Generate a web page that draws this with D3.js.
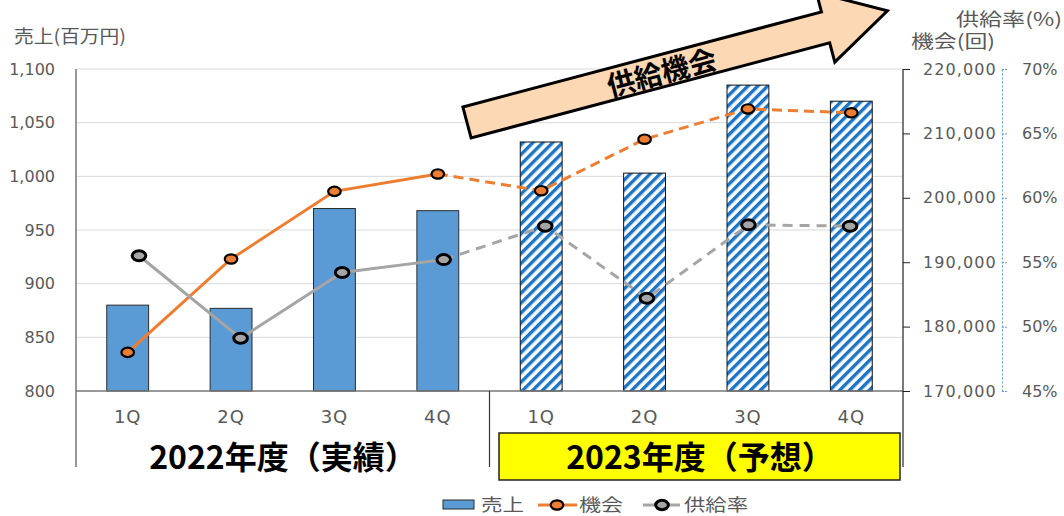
<!DOCTYPE html>
<html>
<head>
<meta charset="utf-8">
<script src="https://cdn.jsdelivr.net/npm/d3@7"></script>
<style>
body { margin: 0; background: #fff; }
</style>
</head>
<body>
<div id="myChart"></div>
<script>
// data
var quarters = ["1Q", "2Q", "3Q", "4Q", "1Q", "2Q", "3Q", "4Q"];
var years = ["2022年度（実績）", "2023年度（予想）"];
var sales = [880, 877, 970, 968, 1032, 1003, 1085, 1070];          // 売上(百万円)
var chances = [176000, 190500, 201000, 203700, 201100, 209100, 213800, 213200]; // 機会(回)
var supplyRate = [55.5, 49.1, 54.2, 55.2, 57.8, 52.2, 57.9, 57.8]; // 供給率(%)
var salesTicks = [800, 850, 900, 950, 1000, 1050, 1100];
var chanceTicks = [170000, 180000, 190000, 200000, 210000, 220000];
var rateTicks = [45, 50, 55, 60, 65, 70];
var forecastStart = 4; // 2023 = forecast

var W = 1064, H = 516;
var cjk = "'Noto Sans CJK JP', 'Noto Sans', sans-serif";
var num = "'DejaVu Sans', Verdana, sans-serif";
var txtGray = "#595959";

var svg = d3.select("#myChart")
    .append("svg")
    .attr("width", W).attr("height", H);

var defs = svg.append("defs");
var hatch = defs.append("pattern")
    .attr("id", "hatch")
    .attr("patternUnits", "userSpaceOnUse")
    .attr("width", 7).attr("height", 7)
    .attr("patternTransform", "rotate(45)");
hatch.append("rect").attr("width", 7).attr("height", 7).attr("fill", "#fff");
hatch.append("rect").attr("width", 3.4).attr("height", 7).attr("fill", "#1C74C4");

// scales
var idx = d3.range(quarters.length);
var x = d3.scaleBand().domain(idx).range([76, 903])
    .paddingInner(0.595).paddingOuter(0.2975);
var xc = function(i) { return x(i) + x.bandwidth() / 2; };
var xRate = d3.scalePoint().domain(idx).range([139, 850]); // 供給率 sits on its own category axis
var ySales = d3.scaleLinear().domain([800, 1100]).range([391, 69]);
var yChance = d3.scaleLinear().domain([170000, 220000]).range([391, 69]);
var yRate = d3.scaleLinear().domain([45, 70]).range([391, 69]);

// gridlines
svg.append("g")
    .selectAll("line")
    .data(salesTicks.slice(1))
    .join("line")
    .attr("x1", 76).attr("x2", 903)
    .attr("y1", function(d) { return ySales(d); })
    .attr("y2", function(d) { return ySales(d); })
    .attr("stroke", "#d9d9d9").attr("stroke-width", 1);

// left axis
var gL = svg.append("g")
    .attr("transform", "translate(76,0)")
    .call(d3.axisLeft(ySales).tickValues(salesTicks).tickSize(0).tickPadding(21)
        .tickFormat(d3.format(",")));
gL.select(".domain").remove();
gL.selectAll("text").attr("font-family", num).attr("font-size", 16).attr("fill", txtGray);

// right axis 機会
var gR = svg.append("g")
    .attr("transform", "translate(903,0)")
    .call(d3.axisRight(yChance).tickValues(chanceTicks).tickSize(7).tickSizeOuter(0)
        .tickPadding(13).tickFormat(d3.format(",")));
gR.select(".domain").remove();
gR.selectAll(".tick line").attr("stroke", "#222");
gR.selectAll("text").attr("font-family", num).attr("font-size", 16)
    .attr("letter-spacing", 1.1).attr("fill", txtGray);

// far right axis 供給率
var gP = svg.append("g")
    .attr("transform", "translate(1002,0)")
    .call(d3.axisRight(yRate).tickValues(rateTicks).tickSize(5).tickSizeOuter(0)
        .tickPadding(15).tickFormat(function(d) { return d + "%"; }));
gP.select(".domain").attr("stroke", "#5B9BD5").attr("stroke-dasharray", "2,2");
gP.selectAll(".tick line").attr("stroke", "#5B9BD5").attr("stroke-dasharray", "2,1");
gP.selectAll("text").attr("font-family", num).attr("font-size", 16).attr("fill", txtGray);

// bars
svg.append("g")
    .selectAll("rect")
    .data(sales)
    .join("rect")
    .attr("x", function(d, i) { return x(i); })
    .attr("width", x.bandwidth())
    .attr("y", function(d) { return ySales(d); })
    .attr("height", function(d) { return ySales(800) - ySales(d); })
    .attr("fill", function(d, i) { return i < forecastStart ? "#5B9BD5" : "url(#hatch)"; })
    .attr("stroke", function(d, i) { return i < forecastStart ? "#2b2b2b" : "#111"; })
    .attr("stroke-width", 1);

// axis lines
svg.append("line").attr("x1", 76).attr("x2", 903).attr("y1", 391).attr("y2", 391)
    .attr("stroke", "#767676").attr("stroke-width", 1.5);
svg.append("line").attr("x1", 76).attr("x2", 76).attr("y1", 69).attr("y2", 467)
    .attr("stroke", "#767676").attr("stroke-width", 1.5);
svg.append("line").attr("x1", 903).attr("x2", 903).attr("y1", 69).attr("y2", 467)
    .attr("stroke", "#222").attr("stroke-width", 1.2);
svg.append("line").attr("x1", x(forecastStart) - x.step() * x.paddingInner() / 2)
    .attr("x2", x(forecastStart) - x.step() * x.paddingInner() / 2)
    .attr("y1", 391).attr("y2", 467)
    .attr("stroke", "#333").attr("stroke-width", 1.2);

// quarter labels
var gB = svg.append("g")
    .attr("transform", "translate(0,391)")
    .call(d3.axisBottom(x).tickSize(0).tickPadding(19)
        .tickFormat(function(i) { return quarters[i]; }));
gB.select(".domain").remove();
gB.selectAll("text").attr("font-family", num).attr("font-size", 18)
    .attr("letter-spacing", 1).attr("fill", txtGray);

// year group labels
svg.append("rect")
    .attr("x", 499).attr("y", 433).attr("width", 401).attr("height", 47)
    .attr("fill", "#FFFF00").attr("stroke", "#222").attr("stroke-width", 1.5);
svg.append("g")
    .selectAll("text")
    .data(years)
    .join("text")
    .attr("x", function(d, i) { return i == 0 ? (76 + 490) / 2 : 700; })
    .attr("y", 457).attr("dy", "0.36em")
    .attr("text-anchor", "middle")
    .attr("font-family", cjk).attr("font-weight", "bold").attr("font-size", 32)
    .attr("fill", "#000")
    .text(function(d) { return d; });

// lines: solid for actuals, dashed for forecast
function drawSeries(values, xs, ys, color, dash) {
    var pts = values.map(function(v, i) { return [xs(i), ys(v)]; });
    var line = d3.line();
    svg.append("path")
        .attr("d", line(pts.slice(0, forecastStart)))
        .attr("fill", "none").attr("stroke", color).attr("stroke-width", 3);
    svg.append("path")
        .attr("d", line(pts.slice(forecastStart - 1)))
        .attr("fill", "none").attr("stroke", color).attr("stroke-width", 3)
        .attr("stroke-dasharray", dash);
    return pts;
}
var pc = drawSeries(chances, xc, yChance, "#ED7D31", "10,6");
var pr = drawSeries(supplyRate, xRate, yRate, "#A5A5A5", "10,7");

svg.append("g").selectAll("ellipse").data(pc).join("ellipse")
    .attr("cx", function(d) { return d[0]; }).attr("cy", function(d) { return d[1]; })
    .attr("rx", 6.3).attr("ry", 4.7)
    .attr("fill", "#ED7D31").attr("stroke", "#000").attr("stroke-width", 2.2);
svg.append("g").selectAll("ellipse").data(pr).join("ellipse")
    .attr("cx", function(d) { return d[0]; }).attr("cy", function(d) { return d[1]; })
    .attr("rx", 6.8).attr("ry", 5)
    .attr("fill", "#A5A5A5").attr("stroke", "#000").attr("stroke-width", 3);

// axis titles
function label(t, xx, yy, len, size) {
    svg.append("text")
        .attr("x", xx).attr("y", yy).attr("dy", "0.36em")
        .attr("font-family", cjk).attr("font-size", size || 18).attr("fill", txtGray)
        .attr("textLength", len).attr("lengthAdjust", "spacingAndGlyphs")
        .text(t);
}
label("売上(百万円)", 14, 37, 112);
label("機会(回)", 911, 42, 84);
label("供給率(%)", 956, 20, 106);

// arrow annotation
var arrow = svg.append("g")
    .attr("transform", "translate(467,122.5) rotate(-14.87)");
arrow.append("path")
    .attr("d", "M0,-16 L371,-16 L371,-36 L435,0 L371,36 L371,16 L0,16 Z")
    .attr("fill", "#FCD9B4").attr("stroke", "#000").attr("stroke-width", 3)
    .attr("stroke-linejoin", "miter");
arrow.append("text")
    .attr("x", 201).attr("y", 2).attr("dy", "0.36em")
    .attr("text-anchor", "middle")
    .attr("font-family", cjk).attr("font-weight", "bold").attr("font-size", 28)
    .attr("fill", "#000")
    .text("供給機会");

// legend
var lg = svg.append("g");
var ly = 505;
lg.append("rect").attr("x", 443).attr("y", ly - 5).attr("width", 31).attr("height", 9)
    .attr("fill", "#5B9BD5").attr("stroke", "#2b2b2b").attr("stroke-width", 1);
lg.append("line").attr("x1", 538).attr("x2", 577).attr("y1", ly).attr("y2", ly)
    .attr("stroke", "#ED7D31").attr("stroke-width", 3);
lg.append("ellipse").attr("cx", 557).attr("cy", ly).attr("rx", 6.3).attr("ry", 4.7)
    .attr("fill", "#ED7D31").attr("stroke", "#000").attr("stroke-width", 2.2);
lg.append("line").attr("x1", 643).attr("x2", 680).attr("y1", ly).attr("y2", ly)
    .attr("stroke", "#A5A5A5").attr("stroke-width", 3);
lg.append("ellipse").attr("cx", 662).attr("cy", ly).attr("rx", 6.3).attr("ry", 4.7)
    .attr("fill", "#A5A5A5").attr("stroke", "#000").attr("stroke-width", 3);
label("売上", 481, ly, 43, 17);
label("機会", 579, ly, 44, 17);
label("供給率", 684, ly, 64, 17);
</script>
</body>
</html>
